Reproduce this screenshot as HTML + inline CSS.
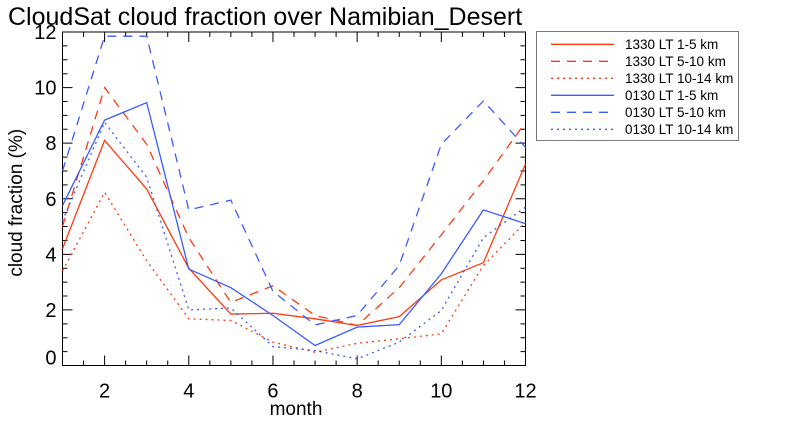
<!DOCTYPE html>
<html><head><meta charset="utf-8"><style>
body{margin:0;background:#fff;width:786px;height:432px;overflow:hidden;font-family:"Liberation Sans",sans-serif}
</style></head><body>
<svg id="c" width="786" height="432" xmlns="http://www.w3.org/2000/svg" font-family="Liberation Sans, sans-serif">
<text x="8" y="25" font-size="25">CloudSat cloud fraction over Namibian_Desert</text>
<g id="axes"></g><g id="series"></g><g id="legend"></g>
</svg>
<script>
const months=[1,2,3,4,5,6,7,8,9,10,11,12];
const xTicks=[2,4,6,8,10,12];
const yTicks=[0,2,4,6,8,10,12];
const red1=[4.2,8.1,6.35,3.5,1.85,1.88,1.68,1.44,1.76,3.08,3.7,7.25];
const red2=[5.0,10.0,7.96,4.6,2.27,2.87,1.8,1.44,2.8,4.7,6.65,8.75];
const red3=[3.4,6.23,3.77,1.68,1.62,0.84,0.48,0.8,0.96,1.14,3.6,5.15];
const blue1=[5.75,8.83,9.46,3.47,2.8,1.8,0.72,1.38,1.47,3.3,5.6,5.1];
const blue2=[7.0,11.85,11.85,5.6,5.95,2.67,1.46,1.8,3.6,7.96,9.52,7.85];
const blue3=[5.2,8.75,6.77,2.0,2.07,0.68,0.54,0.24,0.84,1.98,4.6,5.7];
const seriesNames=["1330 LT 1-5 km","1330 LT 5-10 km","1330 LT 10-14 km","0130 LT 1-5 km","0130 LT 5-10 km","0130 LT 10-14 km"];
const NS="http://www.w3.org/2000/svg";
const L=62.5,R=525.5,T=32,B=365.5;
const x=m=>L+(m-1)*(R-L)/11;
const y=v=>B-v*(B-T)/12;
function mk(t,a,p){const e=document.createElementNS(NS,t);for(const k in a)e.setAttribute(k,a[k]);p.appendChild(e);return e;}
const ax=document.getElementById('axes');
const fr=mk('rect',{x:L,y:T,width:R-L,height:B-T,fill:'none',stroke:'#000','stroke-width':1},ax);


let d='';
for(let m=1;m<=12;m+=0.5){const big=m%2===0;const len=big?10:5;d+=`M${x(m)},${B}v${-len}M${x(m)},${T}v${len}`;}
for(let v=0;v<=12;v+=0.5){const big=v%2===0;const len=big?10:5;d+=`M${L},${y(v)}h${len}M${R},${y(v)}h${-len}`;}
const tk=mk('path',{d:d,stroke:'#000','stroke-width':1,fill:'none'},ax);


xTicks.forEach(m=>{const t=mk('text',{x:x(m),y:B+32,'font-size':20,'text-anchor':'middle'},ax);t.textContent=m;

});
yTicks.forEach(v=>{const t=mk('text',{x:L-6,y:Math.min(y(v)+7,B-1),'font-size':20,'text-anchor':'end'},ax);t.textContent=v;

});
const xt=mk('text',{x:(L+R)/2+2,y:415,'font-size':19,'text-anchor':'middle'},ax);xt.textContent='month';


const yt=mk('text',{x:0,y:0,'font-size':19,'text-anchor':'middle',transform:`translate(22,${(T+B)/2+4}) rotate(-90)`},ax);yt.textContent='cloud fraction (%)';


const RED='#ff3a10',BLUE='#3a5cff';
const styles=[[RED,''],[RED,'9,7'],[RED,'2,4'],[BLUE,''],[BLUE,'9,7'],[BLUE,'2,4']];
const data=[red1,red2,red3,blue1,blue2,blue3];
const sg=document.getElementById('series');
data.forEach((s,i)=>{const p=mk('polyline',{points:s.map((v,j)=>x(months[j])+','+y(v)).join(' '),fill:'none',stroke:styles[i][0],'stroke-width':1.3,'stroke-dasharray':styles[i][1]},sg);

});
const lg=document.getElementById('legend');
const box=mk('rect',{x:536.5,y:31.5,width:202,height:109,fill:'#fff',stroke:'#777'},lg);


seriesNames.forEach((n,i)=>{const cy=44.3+i*17;
const ln=mk('line',{x1:551,x2:614,y1:cy,y2:cy,stroke:styles[i][0],'stroke-width':1.3,'stroke-dasharray':styles[i][1]},lg);


const t=mk('text',{x:625,y:cy+4.5,'font-size':13.5},lg);t.textContent=n;

});
</script>
</body></html>
